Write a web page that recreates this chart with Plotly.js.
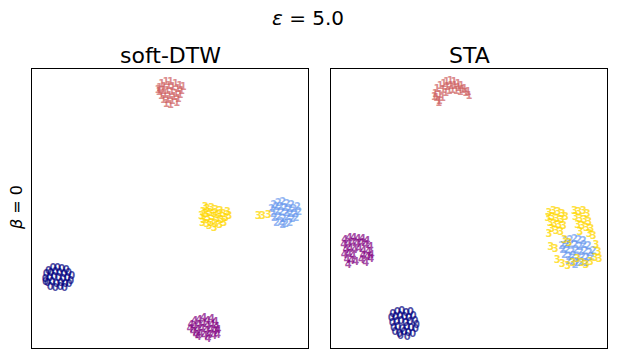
<!DOCTYPE html>
<html><head><meta charset="utf-8">
<script src="https://cdn.plot.ly/plotly-3.0.1.min.js"></script>
<style>html,body{margin:0;padding:0;background:#fff}#chart{width:618px;height:358px}</style>
</head><body><div id="chart"></div>
<script>
// class labels drawn as text markers, and class colours
const classLabels = ['0', '1', '2', '3', '4'];
const classColors = ['rgba(0,0,128,0.7)', 'rgba(205,92,92,0.7)', 'rgba(100,149,237,0.7)', 'rgba(255,215,0,0.75)', 'rgba(128,0,128,0.7)'];
const panelTitles = ['soft-DTW', 'STA'];

// ---- soft-DTW panel embedding ----
const dtwX0 = [6.0,7.6,9.2,10.8,12.4,5.2,6.8,8.4,10.0,11.6,13.2,14.4,4.8,6.4,8.0,9.6,11.2,12.8,14.0,5.6,7.2,8.8,10.4,12.0,13.4,6.6,8.4,10.2,11.8,4.9];
const dtwY0 = [27.6,28.4,28.6,28.2,27.8,26.2,26.8,27.0,26.6,26.2,26.6,25.8,24.6,25.0,25.2,24.8,24.4,24.8,24.0,23.0,23.4,22.8,23.2,22.8,22.6,21.8,21.4,21.6,21.2,23.6];
const dtwX1 = [47.0,48.5,50.2,52.0,53.5,46.2,47.8,49.5,51.0,52.8,54.2,46.0,47.4,49.0,50.6,52.2,53.6,46.8,48.2,49.8,51.4,53.0,47.6,49.2,50.8,52.4,48.6,50.2,54.8,45.6];
const dtwY1 = [94.5,95.2,95.0,94.6,93.8,93.0,93.4,93.6,93.2,92.6,92.0,91.4,91.8,92.0,91.6,91.0,90.6,90.0,90.4,90.2,89.8,89.2,88.6,88.8,88.2,87.8,87.4,86.9,93.4,92.4];
const dtwX2 = [87.6,89.2,90.8,92.4,94.0,86.8,88.4,90.0,91.6,93.2,94.8,96.2,87.2,88.8,90.4,92.0,93.6,95.2,96.6,87.8,89.4,91.0,92.6,94.2,95.6,88.6,90.2,91.8,93.4,90.8];
const dtwY2 = [51.0,51.8,52.2,51.6,51.2,49.6,50.2,50.4,50.0,49.6,49.8,50.4,48.0,48.4,48.6,48.2,47.8,48.0,48.6,46.4,46.8,46.2,46.6,46.0,46.4,44.8,45.0,44.4,44.8,43.8];
const dtwX3 = [62.0,63.5,65.0,66.6,68.2,61.4,63.0,64.6,66.2,67.8,69.4,70.8,62.2,63.8,65.4,67.0,68.6,70.2,61.8,63.4,65.0,66.6,68.0,64.2,66.0,69.6,71.4,62.8,82.0,83.5,85.6];
const dtwY3 = [48.5,49.6,50.0,49.4,48.8,47.2,47.8,48.2,47.9,47.4,47.8,48.4,45.8,46.4,46.6,46.0,45.6,46.4,44.6,44.2,44.8,44.4,43.8,43.4,42.9,44.6,47.0,50.4,47.2,47.2,47.4];
const dtwX4 = [57.6,59.0,60.6,62.2,63.6,65.0,66.4,57.2,58.8,60.4,62.0,63.6,65.2,66.8,58.4,60.0,61.6,63.2,64.8,66.2,67.4,59.4,61.0,62.6,64.2,65.8,60.2,63.8,67.2];
const dtwY4 = [8.2,9.4,10.0,10.4,9.6,10.2,9.0,6.6,7.4,8.0,8.6,7.8,8.2,7.4,5.6,6.2,6.6,6.0,6.4,5.8,6.2,4.4,4.8,4.2,4.6,4.2,3.6,3.2,4.6];

// ---- STA panel embedding ----
const staX0 = [22.4,24.0,25.6,27.2,28.8,21.8,23.4,25.0,26.6,28.2,29.8,22.2,23.8,25.4,27.0,28.6,30.4,31.0,22.6,24.2,25.8,27.4,29.0,30.6,23.2,24.8,26.4,28.0,29.6,25.2,27.6];
const staY0 = [12.0,12.8,13.0,12.4,12.6,10.4,11.0,11.2,10.8,10.6,11.2,8.8,9.2,9.4,8.8,9.0,9.6,8.2,7.0,7.4,6.8,7.2,7.0,6.6,5.4,5.0,5.6,5.2,5.0,4.0,3.8];
const staX1 = [37.8,38.4,38.2,39.6,39.4,39.2,40.8,40.6,40.4,41.8,42.0,41.6,43.2,43.4,44.6,44.8,46.0,46.2,47.2,47.6,48.4,48.8,49.6,50.0,42.8,44.0,45.4,37.4,39.0,46.8];
const staY1 = [91.0,92.6,89.4,93.6,90.4,88.4,94.6,92.2,89.6,95.2,93.4,91.2,95.4,93.8,95.2,93.6,94.6,93.0,93.8,92.2,92.8,91.2,91.6,90.2,92.0,92.4,91.8,89.8,87.6,91.4];
const staX2 = [85.0,86.6,88.2,89.8,91.4,83.6,85.2,86.8,88.4,90.0,91.6,93.2,84.0,85.6,87.2,88.8,90.4,92.0,93.6,95.0,84.6,86.2,87.8,89.4,91.0,92.6,94.4,86.0,87.6,89.2,90.8,92.4,88.4];
const staY2 = [38.0,38.6,38.8,38.4,38.0,36.4,36.8,37.0,36.6,36.2,36.8,36.4,34.8,35.0,34.4,34.8,34.2,34.6,34.0,34.6,33.0,32.6,32.8,32.2,32.6,32.0,32.4,31.0,30.6,30.2,30.8,30.4,29.4];
const staX3 = [79.0,80.6,82.2,83.8,78.6,80.2,81.8,83.4,85.0,79.4,81.0,82.6,84.2,80.0,81.6,83.2,79.0,88.2,89.8,91.4,92.8,88.6,90.2,91.8,93.4,89.4,91.0,92.6,94.2,90.2,93.6,95.0,84.6,86.2,79.6,81.2,96.0,96.8,95.6,94.0,92.4,90.8,89.2,87.6,85.8,83.8,82.0,97.2];
const staY3 = [48.2,48.8,48.4,47.8,46.4,46.8,46.2,45.8,46.6,44.6,44.2,44.0,43.4,42.4,41.8,41.4,40.6,49.0,48.4,48.8,47.8,46.8,46.2,45.6,45.0,44.0,43.4,42.8,42.4,41.4,40.8,39.8,38.4,37.6,36.0,35.2,36.6,34.4,32.2,30.6,29.6,30.2,31.8,30.4,29.2,29.8,31.4,31.6];
const staX4 = [5.0,6.6,8.2,9.8,11.4,13.0,4.6,6.2,7.8,9.4,11.0,12.6,14.2,5.4,7.0,8.6,10.2,11.8,13.6,4.8,6.4,8.0,11.6,13.2,14.6,5.8,7.4,9.0,11.0,12.6,6.2,14.4];
const staY4 = [38.6,39.2,39.4,38.8,39.0,38.2,36.8,37.2,37.6,37.0,37.4,36.6,36.2,35.0,35.4,34.8,35.2,34.6,34.4,33.2,33.6,32.8,32.8,32.4,33.0,31.4,31.0,30.6,31.2,30.2,29.6,31.8];

const dtwXs = [dtwX0, dtwX1, dtwX2, dtwX3, dtwX4];
const dtwYs = [dtwY0, dtwY1, dtwY2, dtwY3, dtwY4];
const staXs = [staX0, staX1, staX2, staX3, staX4];
const staYs = [staY0, staY1, staY2, staY3, staY4];

const drawOrder = [0, 1, 4, 2, 3];
const traces = [];
[[dtwXs, dtwYs, 'x', 'y'], [staXs, staYs, 'x2', 'y2']].forEach(([xs, ys, xa, ya]) => {
  drawOrder.forEach(c => {
    traces.push({
      type: 'scatter', mode: 'text', x: xs[c], y: ys[c],
      text: xs[c].map(() => '<b>' + classLabels[c] + '</b>'),
      textfont: {family: 'DejaVu Sans', size: 10, color: classColors[c]},
      textposition: 'middle center', hoverinfo: 'skip', showlegend: false,
      xaxis: xa, yaxis: ya
    });
  });
});

const ax = {range: [0, 100], showticklabels: false, ticks: '', showgrid: false, zeroline: false,
  showline: true, mirror: true, linecolor: '#000', linewidth: 1};
const yDom = [10 / 358, 289 / 358];
const layout = {
  width: 618, height: 358, margin: {l: 0, r: 0, t: 0, b: 0},
  paper_bgcolor: '#fff', plot_bgcolor: '#fff',
  font: {family: 'DejaVu Sans', color: '#000'},
  xaxis: Object.assign({}, ax, {domain: [32 / 618, 308 / 618], anchor: 'y'}),
  yaxis: Object.assign({}, ax, {domain: yDom, anchor: 'x'}),
  xaxis2: Object.assign({}, ax, {domain: [331 / 618, 607 / 618], anchor: 'y2'}),
  yaxis2: Object.assign({}, ax, {domain: yDom, anchor: 'x2'}),
  annotations: [
    {text: '<i>ε</i> = 5.0', xref: 'paper', yref: 'paper', x: 308 / 618, y: 1 - 18 / 358, xanchor: 'center', yanchor: 'middle', showarrow: false, font: {size: 20}},
    {text: panelTitles[0], xref: 'paper', yref: 'paper', x: 170 / 618, y: 1 - 55 / 358, xanchor: 'center', yanchor: 'middle', showarrow: false, font: {size: 22}},
    {text: panelTitles[1], xref: 'paper', yref: 'paper', x: 469 / 618, y: 1 - 55 / 358, xanchor: 'center', yanchor: 'middle', showarrow: false, font: {size: 22}},
    {text: '<i>β</i> = 0', xref: 'paper', yref: 'paper', x: 16 / 618, y: 1 - 208 / 358, xanchor: 'center', yanchor: 'middle', showarrow: false, textangle: -90, font: {size: 16}}
  ]
};
Plotly.newPlot('chart', traces, layout, {staticPlot: true, displayModeBar: false});
</script></body></html>
